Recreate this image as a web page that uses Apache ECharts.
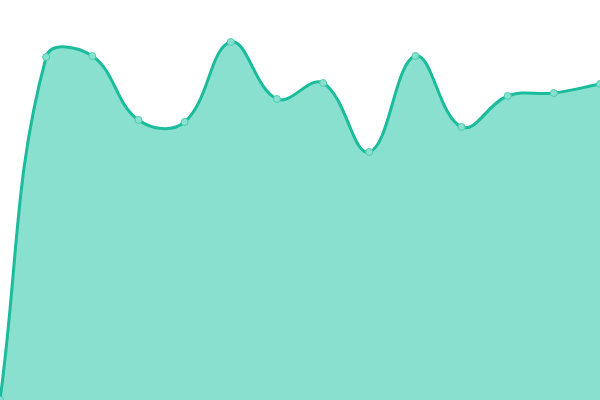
<!DOCTYPE html>
<html>
<head>
<meta charset="utf-8">
<script src="https://cdn.jsdelivr.net/npm/echarts@6/dist/echarts.min.js"></script>
<style>html,body{margin:0;padding:0;background:#fff;}#c{width:600px;height:400px;}</style>
</head>
<body>
<div id="c"></div>
<script>
const categories = ['1','2','3','4','5','6','7','8','9','10','11','12','13','14'];
const values = [0, 343, 344, 280, 278, 358, 301, 317, 248, 344, 273, 304, 307, 316];
const tension = 0.4;

function splinePath(api) {
  const pts = values.map((v, i) => api.coord([i, v]));
  const n = pts.length;
  const cps = [];
  for (let i = 0; i < n; i++) {
    const prev = pts[Math.max(i - 1, 0)], cur = pts[i], next = pts[Math.min(i + 1, n - 1)];
    const d01 = Math.hypot(cur[0] - prev[0], cur[1] - prev[1]);
    const d12 = Math.hypot(next[0] - cur[0], next[1] - cur[1]);
    let s01 = d01 / (d01 + d12), s12 = d12 / (d01 + d12);
    if (isNaN(s01)) s01 = 0;
    if (isNaN(s12)) s12 = 0;
    const fa = tension * s01, fb = tension * s12;
    cps.push({
      p: [cur[0] - fa * (next[0] - prev[0]), cur[1] - fa * (next[1] - prev[1])],
      n: [cur[0] + fb * (next[0] - prev[0]), cur[1] + fb * (next[1] - prev[1])]
    });
  }
  let d = 'M' + pts[0][0] + ' ' + pts[0][1];
  for (let i = 1; i < n; i++) {
    const a = cps[i - 1].n, b = cps[i].p;
    d += ' C' + a[0] + ' ' + a[1] + ' ' + b[0] + ' ' + b[1] + ' ' + pts[i][0] + ' ' + pts[i][1];
  }
  const base0 = api.coord([0, 0]), base1 = api.coord([n - 1, 0]);
  const area = d + ' L' + base1[0] + ' ' + base1[1] + ' L' + base0[0] + ' ' + base0[1] + ' Z';
  return {line: d, area: area};
}

const chart = echarts.init(document.getElementById('c'));
chart.setOption({
  animation: false,
  grid: {left: 0, right: 0, top: 0, bottom: 0, containLabel: false},
  xAxis: {type: 'category', data: categories, boundaryGap: false, show: false},
  yAxis: {type: 'value', min: 0, max: 400, show: false},
  series: [{
    type: 'custom',
    coordinateSystem: 'cartesian2d',
    data: [0],
    silent: true,
    z: 1,
    renderItem: function (params, api) {
      const p = splinePath(api);
      return {
        type: 'group',
        children: [
          {type: 'path', shape: {pathData: p.area}, style: {fill: '#89e0cf', stroke: null}},
          {type: 'path', shape: {pathData: p.line}, style: {fill: null, stroke: '#1abc9c', lineWidth: 3}}
        ]
      };
    }
  }, {
    type: 'line',
    data: values,
    z: 5,
    symbol: 'circle',
    symbolSize: 7,
    showAllSymbol: true,
    lineStyle: {width: 0, opacity: 0},
    itemStyle: {color: '#8ae0cf', borderColor: '#4ccdb2', borderWidth: 1}
  }]
});
</script>
</body>
</html>
